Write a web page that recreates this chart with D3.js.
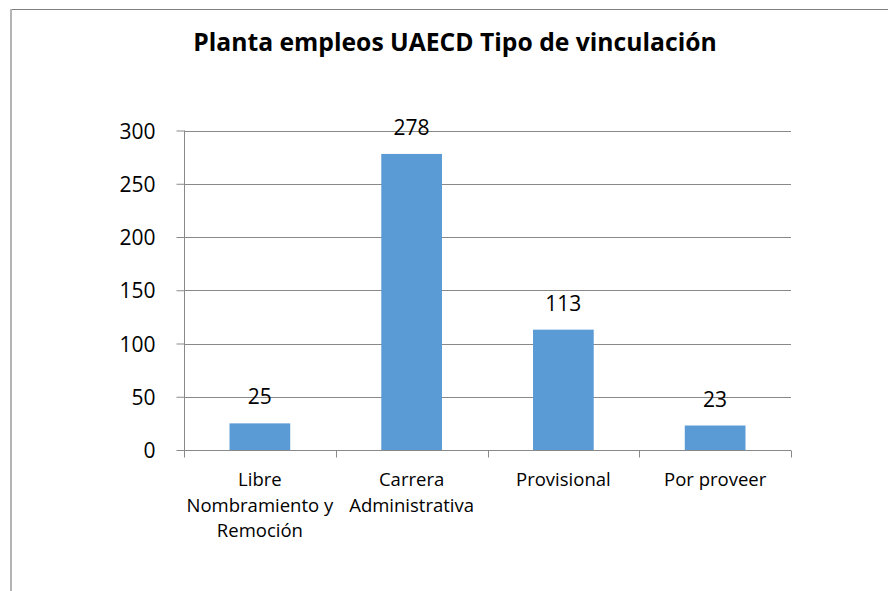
<!DOCTYPE html>
<html>
<head>
<meta charset="utf-8">
<script src="https://cdn.jsdelivr.net/npm/d3@7"></script>
<style>
  body { margin: 0; background: #fff; }
  text { font-family: "Open Sans", sans-serif; fill: #000; }
</style>
</head>
<body>
<div id="chart"></div>
<script>
// Daten
const categories = ["Libre Nombramiento y Remoción", "Carrera Administrativa", "Provisional", "Por proveer"];
const values = [25, 278, 113, 23];
const yTicks = [0, 50, 100, 150, 200, 250, 300];
const title = "Planta empleos UAECD Tipo de vinculación";

const width = 888, height = 591;
const margin = {left: 184, right: 97, top: 130.5, bottom: 141};
const font = "'Open Sans', sans-serif";

const svg = d3.select("#chart").append("svg")
    .attr("width", width)
    .attr("height", height);

// Rahmen (nur oben und links sichtbar)
svg.append("line")
    .attr("x1", 10).attr("x2", width)
    .attr("y1", 9.5).attr("y2", 9.5)
    .attr("stroke", "#7f7f7f");
svg.append("line")
    .attr("x1", 11).attr("x2", 11)
    .attr("y1", 9).attr("y2", height)
    .attr("stroke", "#b4b4b4")
    .attr("stroke-width", 2);

// Titel
svg.append("text")
    .attr("x", 455).attr("y", 51)
    .attr("text-anchor", "middle")
    .attr("font-size", 24.7)
    .attr("font-weight", "bold")
    .text(title);

const x = d3.scaleBand()
    .domain(categories)
    .range([margin.left, width - margin.right])
    .paddingInner(0.6)
    .paddingOuter(0.3);

const y = d3.scaleLinear()
    .domain([0, 300])
    .range([height - margin.bottom, margin.top]);

// Gitterlinien
svg.append("g")
    .selectAll("line")
    .data(yTicks.slice(1))
    .join("line")
    .attr("x1", margin.left).attr("x2", width - margin.right)
    .attr("y1", d => Math.round(y(d)) + 0.5)
    .attr("y2", d => Math.round(y(d)) + 0.5)
    .attr("stroke", "#898989");

// Balken
svg.append("g")
    .selectAll("rect")
    .data(values)
    .join("rect")
    .attr("x", (d, i) => x(categories[i]))
    .attr("y", d => y(d))
    .attr("width", x.bandwidth())
    .attr("height", d => y(0) - y(d))
    .attr("fill", "#5b9bd5");

// Werte
svg.append("g")
    .selectAll("text")
    .data(values)
    .join("text")
    .attr("x", (d, i) => x(categories[i]) + x.bandwidth() / 2)
    .attr("y", d => y(d) - 19)
    .attr("text-anchor", "middle")
    .attr("font-size", 21)
    .text(d => d);

// Y-Achse
const yAxis = svg.append("g")
    .attr("transform", `translate(${margin.left + 0.5},0)`)
    .call(d3.axisLeft(y).tickValues(yTicks).tickSize(8).tickPadding(21));
yAxis.select(".domain").attr("stroke", "#898989").attr("d", `M0,${margin.top}V${y(0)}`);
yAxis.selectAll(".tick line").attr("stroke", "#898989");
yAxis.selectAll(".tick text").attr("font-size", 21).attr("fill", "#000")
    .attr("font-family", font).attr("dy", "0.36em");

// X-Achse
const xAxisY = Math.round(y(0)) + 0.5;
const band = (width - margin.right - margin.left) / categories.length;
const xg = svg.append("g");
xg.append("line")
    .attr("x1", margin.left).attr("x2", width - margin.right)
    .attr("y1", xAxisY).attr("y2", xAxisY)
    .attr("stroke", "#898989");
xg.selectAll("line.tick")
    .data(d3.range(categories.length + 1))
    .join("line")
    .attr("class", "tick")
    .attr("x1", i => Math.round(margin.left + i * band) + 0.5)
    .attr("x2", i => Math.round(margin.left + i * band) + 0.5)
    .attr("y1", xAxisY).attr("y2", xAxisY + 7)
    .attr("stroke", "#898989");

// Kategorien mit Zeilenumbruch
const labels = xg.selectAll("text")
    .data(categories)
    .join("text")
    .attr("text-anchor", "middle")
    .attr("font-size", 18.5)
    .attr("x", d => x(d) + x.bandwidth() / 2);

labels.each(function(d) {
    const t = d3.select(this);
    const cx = x(d) + x.bandwidth() / 2;
    const words = d.split(" ");
    let lines = [], line = [];
    const probe = t.append("tspan");
    words.forEach(w => {
        const test = line.concat(w).join(" ");
        probe.text(test);
        if (probe.node().getComputedTextLength() > band && line.length) {
            lines.push(line.join(" "));
            line = [w];
        } else {
            line.push(w);
        }
    });
    lines.push(line.join(" "));
    probe.remove();
    lines.forEach((l, i) => {
        t.append("tspan")
            .attr("x", cx)
            .attr("y", 486 + i * 25.5)
            .text(l);
    });
});
</script>
</body>
</html>
